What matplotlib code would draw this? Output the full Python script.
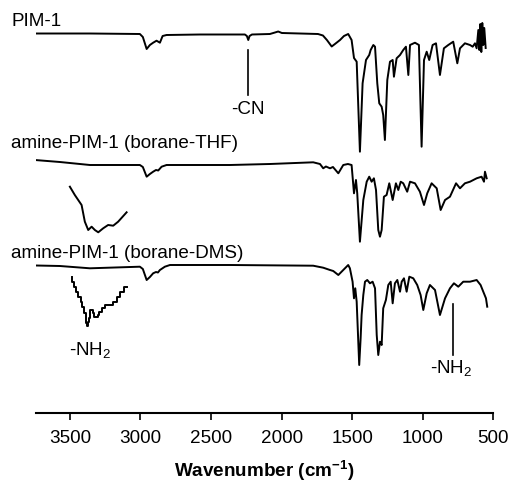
import matplotlib
matplotlib.use("Agg")
import matplotlib.pyplot as plt

plt.rcParams['font.family'] = ['Liberation Sans', 'DejaVu Sans']
plt.rcParams['mathtext.fontset'] = 'custom'
plt.rcParams['mathtext.rm'] = 'Liberation Sans'
plt.rcParams['mathtext.it'] = 'Liberation Sans'
plt.rcParams['mathtext.bf'] = 'Liberation Sans:bold'

# ---- data (wavenumber in cm-1, relative transmittance, arbitrary units) ----
pim_wn = [3740, 3358, 3004, 2983, 2956, 2933, 2910, 2886, 2862, 2843, 2815, 2579, 2260, 2246,
          2236, 2227, 2210, 2083, 2047, 2024, 1998, 1870, 1742, 1707, 1679, 1645, 1622, 1586,
          1558, 1528, 1504, 1487, 1468, 1445, 1426, 1402, 1379, 1369, 1350, 1338, 1322, 1308,
          1291, 1280, 1268, 1251, 1232, 1213, 1204, 1185, 1161, 1138, 1119, 1102, 1090, 1055,
          1027, 1008, 991, 972, 954, 930, 906, 878, 850, 819, 784, 755, 736, 701, 665, 646,
          630, 618, 606, 599, 592, 585, 578, 571, 564, 554]
pim_t = [-0.5, -0.5, -1, -4, -16, -12, -9.7, -7.7, -9.7, -3, -2, -1.5, -1.5, -3,
         -7, -3, -1.5, -1, 0.5, 1.5, 0, -0.5, -1, -2.5, -7, -13.5, -11, -7,
         -3, -1, -7, -25, -28.7, -118.7, -50.3, -27, -22, -17, -12, -13.7, -50.3, -70.3,
         -73.7, -82, -107, -47, -28.7, -27, -43.7, -25.3, -22, -17, -13.7, -42, -12, -9.7,
         -12, -113.7, -27, -18.7, -27, -12, -10.3, -42, -15.3, -12, -8.7, -30.3, -15.3, -10.3, -12, -13.7,
         -10.3, -15.3, 3, -17, 9, -19, 10, -12, 5, -15]

thf_wn = [3748, 3571, 3358, 3004, 2983, 2956, 2933, 2910, 2890, 2874, 2850, 2815, 2366, 2083,
          1776, 1728, 1705, 1686, 1657, 1636, 1598, 1563, 1530, 1504, 1487, 1473, 1464, 1445,
          1421, 1397, 1379, 1362, 1346, 1331, 1315, 1303, 1291, 1275, 1256, 1237, 1213, 1190,
          1173, 1156, 1138, 1110, 1090, 1055, 1020, 991, 968, 937, 901, 873, 842, 807, 764,
          736, 701, 665, 618, 583, 566, 559, 547]
thf_t = [3, 1, -2, -2, -4, -13.7, -11, -8.7, -7, -7.5, -3.7, -2, -2, -1,
         0.7, -1, -5.3, -3.5, -5.3, -4, -10.3, -2, -1, -2, -30.3, -17, -30.3, -78.7,
         -37, -18.7, -13.7, -18.7, -15.3, -27, -67, -73.7, -67, -33.7, -32, -20.3, -37, -20.3,
         -27, -18.7, -20.3, -28.7, -18.7, -20.3, -28.7, -42, -30.3, -20.3, -25.3, -47, -37, -33.7, -20.3,
         -25.3, -20.3, -18.7, -15.3, -13.7, -18.7, -8.7, -15.3]

thf_inset_wn = [3500, 3465, 3417, 3394, 3370, 3346, 3323, 3299, 3264, 3229, 3193, 3158, 3098]
thf_inset_t = [-23.7, -32, -42, -58.7, -67, -63.7, -67, -69.3, -65.3, -62, -62.7, -58.7, -49.3]

dms_wn = [3740, 3571, 3358, 3004, 2983, 2956, 2933, 2910, 2890, 2876, 2862, 2827, 2791, 2366,
          1776, 1705, 1657, 1634, 1598, 1563, 1528, 1516, 1497, 1487, 1478, 1468, 1450, 1440,
          1433, 1421, 1409, 1393, 1374, 1355, 1338, 1326, 1315, 1303, 1291, 1280, 1261, 1244,
          1227, 1213, 1197, 1180, 1161, 1149, 1133, 1114, 1095, 1067, 1039, 1015, 996, 972,
          949, 913, 878, 842, 807, 779, 748, 713, 665, 618, 590, 571, 552, 543]
dms_t = [0.5, 0, -2.3, -0.7, -3, -14, -11, -7.3, -6, -6.5, -4, -0.7, 1, 1,
         0.3, -1.7, -4, -5, -9, -4, 1, -2.3, -15.7, -32.3, -22.3, -35.7, -99, -72.3,
         -49, -29, -15.7, -14, -17.3, -15.7, -22.3, -69, -89, -75.7, -79, -42.3, -34, -19,
         -15.7, -37.3, -17.3, -14, -25.7, -15.7, -12.3, -25.7, -10.7, -12.3, -19, -29, -44, -27.3,
         -19, -24, -49, -32.3, -22.3, -17.3, -20.7, -15.7, -15.7, -14, -19, -25.7, -32.3, -40.7]

dms_inset_wn = [3488, 3477, 3465, 3453, 3429, 3417, 3406, 3394, 3384, 3377, 3369, 3363, 3353,
                3344, 3335, 3323, 3309, 3299, 3287, 3264, 3240, 3205, 3181, 3158, 3134, 3098]
dms_inset_t = [-10.7, -15.7, -20.7, -25.7, -30.7, -35.7, -40.7, -47.3, -57, -59.7, -56, -52.3, -44,
               -44, -47.3, -50.7, -50.7, -49, -45.7, -42.3, -39, -39, -35.7, -30.7, -25.7, -20.7]

offsets = {"PIM-1": 380, "amine-PIM-1 (borane-THF)": 250, "amine-PIM-1 (borane-DMS)": 147}
xticks = [3500, 3000, 2500, 2000, 1500, 1000, 500]

# ---- figure ----
fig = plt.figure(figsize=(5.09, 4.88), dpi=100)
ax = fig.add_axes([36 / 509, 75 / 488, 457.3 / 509, 413 / 488])
ax.set_xlim(3740, 500)
ax.set_ylim(0, 413)

lw = 1.4
o1, o2, o3 = offsets.values()
ax.plot(pim_wn, [v + o1 for v in pim_t], color='black', lw=lw)
ax.plot(thf_wn, [v + o2 for v in thf_t], color='black', lw=lw)
ax.plot(thf_inset_wn, [v + o2 for v in thf_inset_t], color='black', lw=lw)
ax.plot(dms_wn, [v + o3 for v in dms_t], color='black', lw=lw)
ax.plot(dms_inset_wn, [v + o3 for v in dms_inset_t], color='black', lw=lw, drawstyle='steps-mid')

fs = 13.6
labels_y = [o1 + 11.3, o2 + 19.7, o3 + 12.7]
for (name, off), ly in zip(offsets.items(), labels_y):
    ax.text(3915, ly, name, fontsize=fs, ha='left', va='center', clip_on=False)

# annotations
ax.plot([2236, 2236], [o1 - 17, o1 - 62], color='black', lw=1.2)
ax.text(2236, o1 - 77, "-CN", fontsize=fs, ha='center', va='center')
ax.plot([788, 788], [o3 - 38, o3 - 89], color='black', lw=1.2)
ax.text(800, o3 - 102, "-NH$_2$", fontsize=fs, ha='center', va='center')
ax.text(3358, o3 - 84, "-NH$_2$", fontsize=fs, ha='center', va='center')

for s in ['top', 'right', 'left']:
    ax.spines[s].set_visible(False)
ax.spines['bottom'].set_linewidth(1.5)
ax.set_yticks([])
ax.set_xticks(xticks)
ax.tick_params(axis='x', direction='out', length=5, width=1.2, pad=7, labelsize=fs)
ax.set_xlabel(r"Wavenumber (cm$\mathbf{^{-1}}$)", fontsize=fs, fontweight='bold', labelpad=9)

fig.savefig("out.png", dpi=100)
